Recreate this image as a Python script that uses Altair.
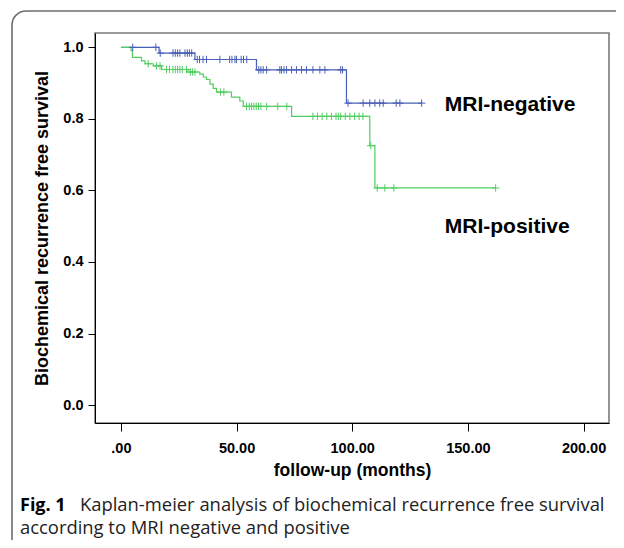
import altair as alt
import pandas as pd

# ---- data ----
# MRI-negative (blue): step times (months) and survival after each step
neg_time = [0, 16.5, 32.0, 58.6, 97.5, 130.0]
neg_surv = [1.0, 0.984, 0.966, 0.937, 0.844, 0.844]
neg_cens_time = [5.1, 15.1,
                 17.0, 22.5, 23.5, 24.5, 25.5, 27.7, 28.7, 29.6, 30.6,
                 33.0, 34.0, 35.5, 37.0, 42.8, 47.0, 48.0, 49.3, 50.0, 52.0, 53.0, 54.4,
                 59.6, 60.5, 61.5, 63.0, 68.7, 69.4, 70.5, 71.6, 73.8, 75.9, 78.1, 80.2,
                 83.0, 86.0, 88.2, 95.0, 95.8,
                 98.2, 104.7, 107.6, 109.8, 111.9, 113.4, 119.0, 120.6, 130.0]
neg_cens_surv = [1.0, 1.0,
                 0.984, 0.984, 0.984, 0.984, 0.984, 0.984, 0.984, 0.984, 0.984,
                 0.966, 0.966, 0.966, 0.966, 0.966, 0.966, 0.966, 0.966, 0.966, 0.966, 0.966, 0.966,
                 0.937, 0.937, 0.937, 0.937, 0.937, 0.937, 0.937, 0.937, 0.937, 0.937, 0.937, 0.937,
                 0.937, 0.937, 0.937, 0.937, 0.937,
                 0.844, 0.844, 0.844, 0.844, 0.844, 0.844, 0.844, 0.844, 0.844]

# MRI-positive (green)
pos_time = [0, 4.4, 5.0, 8.9, 10.4, 14.0, 17.6, 29.0, 34.1, 35.6, 37.0, 38.5, 39.9,
            41.3, 47.8, 51.4, 52.9, 73.8, 107.6, 109.8, 162.0]
pos_surv = [1.0, 0.991, 0.972, 0.962, 0.954, 0.948, 0.938, 0.931, 0.925, 0.917, 0.910,
            0.897, 0.885, 0.875, 0.861, 0.850, 0.835, 0.807, 0.725, 0.607, 0.607]
pos_cens_time = [11.8, 15.4, 16.9,
                 19.7, 21.0, 22.5, 23.5, 24.5, 25.5, 26.5, 28.4,
                 30.0, 31.0, 32.0,
                 43.0, 44.5,
                 54.3, 55.5, 56.5, 57.5, 58.5, 59.5, 60.5, 63.0, 67.8, 71.7,
                 83.0, 85.0, 87.0, 89.0, 91.0, 93.0, 94.0, 95.0, 97.0, 99.0, 101.0, 103.0, 104.6,
                 108.0,
                 110.8, 114.1, 118.0, 162.0]
pos_cens_surv = [0.954, 0.948, 0.948,
                 0.938, 0.938, 0.938, 0.938, 0.938, 0.938, 0.938, 0.938,
                 0.931, 0.931, 0.931,
                 0.875, 0.875,
                 0.835, 0.835, 0.835, 0.835, 0.835, 0.835, 0.835, 0.835, 0.835, 0.835,
                 0.807, 0.807, 0.807, 0.807, 0.807, 0.807, 0.807, 0.807, 0.807, 0.807, 0.807, 0.807, 0.807,
                 0.725,
                 0.607, 0.607, 0.607, 0.607]

groups = ["MRI-negative", "MRI-positive"]
colors = ["#4a60b6", "#52cd62"]
label_time = [140.0, 140.0]
label_surv = [0.821, 0.480]

x_ticks = [0, 50, 100, 150, 200]
y_ticks = [0.0, 0.2, 0.4, 0.6, 0.8, 1.0]

caption_bold = "Fig. 1"
caption_line1 = "Kaplan-meier analysis of biochemical recurrence free survival"
caption_line2 = "according to MRI negative and positive"

# ---- tables ----
curves = pd.concat([
    pd.DataFrame({"t": neg_time, "s": neg_surv, "g": groups[0]}),
    pd.DataFrame({"t": pos_time, "s": pos_surv, "g": groups[1]}),
])
cens = pd.concat([
    pd.DataFrame({"t": neg_cens_time, "s": neg_cens_surv, "g": groups[0]}),
    pd.DataFrame({"t": pos_cens_time, "s": pos_cens_surv, "g": groups[1]}),
])
labels = pd.DataFrame({"t": label_time, "s": label_surv, "g": groups})

AX = "Liberation Sans"
xs = alt.Scale(domain=[-11.2, 211], nice=False, zero=False)
ys = alt.Scale(domain=[-0.05, 1.04], nice=False, zero=False)
col = alt.Scale(domain=groups, range=colors)

x_enc = alt.X("t:Q", scale=xs, axis=alt.Axis(
    values=x_ticks, title="follow-up (months)",
    labelExpr="datum.value == 0 ? '.00' : format(datum.value, '.2f')",
    grid=False, domainColor="black", tickColor="black", tickSize=8,
    labelFont=AX, labelFontSize=14.5, labelFontWeight="bold", labelColor="black",
    labelPadding=10, titleFont=AX, titleFontSize=17.5, titleFontWeight="bold",
    titleColor="black", titlePadding=7))
y_enc = alt.Y("s:Q", scale=ys, axis=alt.Axis(
    values=y_ticks, format=".1f", title="Biochemical recurrence free survival",
    grid=False, domainColor="black", tickColor="black", tickSize=7,
    labelFont=AX, labelFontSize=14.5, labelFontWeight="bold", labelColor="black",
    labelPadding=5, titleFont=AX, titleFontSize=18, titleFontWeight="bold",
    titleColor="black", titlePadding=11))

lines = alt.Chart(curves).mark_line(interpolate="step-after", strokeWidth=1.2).encode(
    x=x_enc, y=y_enc, color=alt.Color("g:N", scale=col, legend=None), detail="g:N")

ticks = alt.Chart(cens).mark_point(
    shape="M-1,0L1,0M0,-1L0,1", size=55, filled=False, strokeWidth=1, opacity=1
).encode(x="t:Q", y="s:Q", color=alt.Color("g:N", scale=col, legend=None))

lab = alt.Chart(labels).mark_text(
    align="left", baseline="alphabetic", font=AX, fontSize=21, fontWeight="bold",
    color="black").encode(x="t:Q", y="s:Q", text="g:N")

# decorative outer rounded frame (figure box)
box = alt.Chart(pd.DataFrame({"a": [0]})).mark_rect(
    fill=None, stroke="#6e6e6e", strokeWidth=1.6, cornerRadius=14, clip=False
).encode(x=alt.value(-83), x2=alt.value(560), y=alt.value(-22), y2=alt.value(560))

cap_df = pd.DataFrame({"a": [0]})
cap_b = alt.Chart(cap_df).mark_text(
    align="left", baseline="alphabetic", font="Open Sans", fontSize=18,
    fontWeight="bold", color="black", clip=False
).encode(x=alt.value(-75), y=alt.value(478), text=alt.value(caption_bold))
cap_1 = alt.Chart(cap_df).mark_text(
    align="left", baseline="alphabetic", font="Open Sans", fontSize=18.4,
    color="#222222", clip=False
).encode(x=alt.value(-15), y=alt.value(478), text=alt.value(caption_line1))
cap_2 = alt.Chart(cap_df).mark_text(
    align="left", baseline="alphabetic", font="Open Sans", fontSize=18.4,
    color="#222222", clip=False
).encode(x=alt.value(-75), y=alt.value(501), text=alt.value(caption_line2))

chart = alt.layer(box, lines, ticks, lab, cap_b, cap_1, cap_2).properties(
    width=514, height=390,
    autosize=alt.AutoSizeParams(type="none"),
    padding={"left": 87, "top": 25, "right": 7, "bottom": 117},
    background="white",
).configure_view(stroke="#7a7a7a", strokeWidth=1.6)

chart.save("out.html", embed_options={"renderer": "svg", "actions": False})
